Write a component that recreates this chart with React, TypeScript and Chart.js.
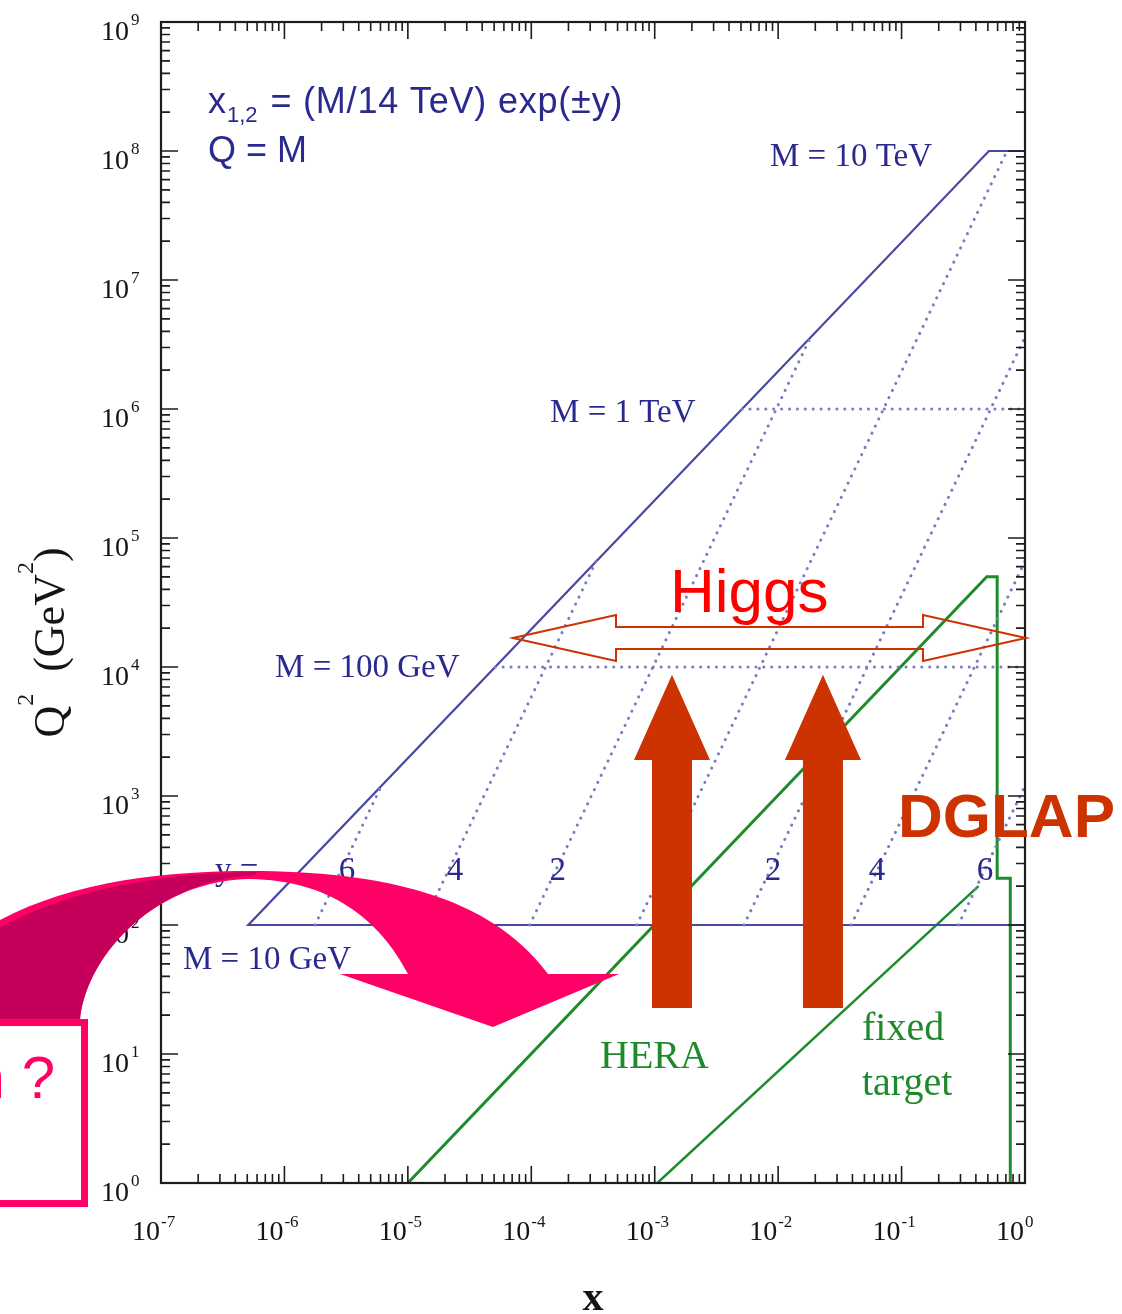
import React, { useEffect, useRef } from 'react';
import { Chart, registerables } from 'chart.js';

Chart.register(...registerables);

// ---------------- data (x = momentum fraction, Q2 in GeV^2) ----------------
// LHC kinematic limit (solid) : M = 10 GeV floor, diagonal, M = 10 TeV cap
const limitX = [1, 5.1e-7, 0.51, 1];
const limitQ2 = [100, 100, 1e8, 1e8];

// constant-mass dotted lines
const mass100GeVX = [5.1e-5, 1];
const mass100GeVQ2 = [1e4, 1e4];
const mass1TeVX = [5.1e-3, 1];
const mass1TeVQ2 = [1e6, 1e6];

// constant-rapidity dotted lines (y = 6, 4, 2, 0, -2, -4, -6)
const rapidityValues = [6, 4, 2, 0, -2, -4, -6];
const rapidityStartX = [1.77e-6, 1.31e-5, 9.7e-5, 7.14e-4, 5.28e-3, 0.039, 0.288];
const rapidityStartQ2 = [100, 100, 100, 100, 100, 100, 100];
const rapidityEndX = [6.1e-6, 3.35e-4, 0.0183, 0.714, 1, 1, 1];
const rapidityEndQ2 = [1200, 6.6e4, 3.6e6, 1e8, 3.6e6, 6.6e4, 1200];

// HERA region boundary
const heraX = [1e-5, 0.49, 0.595, 0.595, 0.76, 0.76];
const heraQ2 = [1, 5e4, 5e4, 230, 230, 1];

// fixed target boundary
const fixedTargetX = [1.05e-3, 0.42];
const fixedTargetQ2 = [1, 200];

// axes
const xTickExponents = [-7, -6, -5, -4, -3, -2, -1, 0];
const yTickExponents = [0, 1, 2, 3, 4, 5, 6, 7, 8, 9];

// rapidity labels along the M = 10 GeV line
const rapidityLabels = ['6', '4', '2', '2', '4', '6'];
const rapidityLabelX = [3.21e-6, 2.41e-5, 1.64e-4, 9.08e-3, 0.0632, 0.474];
const rapidityLabelQ2 = 224;

// ---------------- styling ----------------
const SERIF = "'Liberation Serif','DejaVu Serif','Times New Roman',serif";
const SANS = "'Liberation Sans',Arial,Helvetica,sans-serif";
const NAVY = '#2a2a8e';
const BLUE_LINE = '#4848a2';
const BLUE_DOT = '#7c7cc2';
const GREEN = '#1f8c2b';
const GREEN_TXT = '#1f8a2c';
const ORANGE = '#cc3300';
const PINK = '#ff0066';
const PINK_DARK = '#c6005a';

const pts = (xs: number[], ys: number[]) => xs.map((x, i) => ({ x, y: ys[i] }));

const decorPlugin = {
  id: 'decor',
  afterDraw(chart: any) {
    const { ctx, chartArea: a } = chart;
    const xs = chart.scales.x;
    const ys = chart.scales.y;
    const X = (lx: number) => xs.getPixelForValue(Math.pow(10, lx));
    const Y = (ly: number) => ys.getPixelForValue(Math.pow(10, ly));
    ctx.save();

    // ---- frame and inward ticks ----
    ctx.strokeStyle = '#1c1c1c';
    ctx.lineWidth = 1.6;
    ctx.beginPath();
    xTickExponents.forEach((e) => {
      for (let m = 1; m <= 9; m++) {
        const v = m * Math.pow(10, e);
        if (v > xs.max * 1.0001) break;
        const px = xs.getPixelForValue(v);
        const len = m === 1 ? 17 : 9;
        ctx.moveTo(px, a.bottom);
        ctx.lineTo(px, a.bottom - len);
        ctx.moveTo(px, a.top);
        ctx.lineTo(px, a.top + len);
      }
    });
    yTickExponents.forEach((e) => {
      for (let m = 1; m <= 9; m++) {
        const v = m * Math.pow(10, e);
        if (v > ys.max * 1.0001) break;
        const py = ys.getPixelForValue(v);
        const len = m === 1 ? 17 : 9;
        ctx.moveTo(a.left, py);
        ctx.lineTo(a.left + len, py);
        ctx.moveTo(a.right, py);
        ctx.lineTo(a.right - len, py);
      }
    });
    ctx.stroke();
    ctx.lineWidth = 2.2;
    ctx.strokeRect(a.left, a.top, a.right - a.left, a.bottom - a.top);

    // ---- tick labels ----
    ctx.fillStyle = '#141414';
    ctx.textBaseline = 'alphabetic';
    xTickExponents.forEach((e) => {
      const px = xs.getPixelForValue(Math.pow(10, e));
      ctx.font = `28px ${SERIF}`;
      ctx.textAlign = 'right';
      ctx.fillText('10', px - 1, a.bottom + 57);
      ctx.font = `17px ${SERIF}`;
      ctx.textAlign = 'left';
      ctx.fillText(String(e), px, a.bottom + 44);
    });
    yTickExponents.forEach((e) => {
      const py = ys.getPixelForValue(Math.pow(10, e));
      ctx.font = `28px ${SERIF}`;
      ctx.textAlign = 'right';
      ctx.fillText('10', a.left - 32, py + 18);
      ctx.font = `17px ${SERIF}`;
      ctx.textAlign = 'left';
      ctx.fillText(String(e), a.left - 30, py + 3);
    });

    // ---- axis titles ----
    ctx.font = `bold 42px ${SERIF}`;
    ctx.textAlign = 'center';
    ctx.fillText('x', (a.left + a.right) / 2, a.bottom + 127);

    ctx.save();
    ctx.translate(64, (Y(4) + Y(5)) / 2 + 40);
    ctx.rotate(-Math.PI / 2);
    ctx.textAlign = 'left';
    const parts: [string, number, number][] = [
      ['Q', 44, 0],
      ['2', 24, -31],
      ['  (GeV', 44, 0],
      ['2', 24, -31],
      [')', 44, 0],
    ];
    let total = 0;
    parts.forEach(([t, s]) => {
      ctx.font = `${s}px ${SERIF}`;
      total += ctx.measureText(t).width;
    });
    let cx = -total / 2;
    parts.forEach(([t, s, dy]) => {
      ctx.font = `${s}px ${SERIF}`;
      ctx.fillText(t, cx, dy);
      cx += ctx.measureText(t).width;
    });
    ctx.restore();

    // ---- blue in-plot labels ----
    ctx.fillStyle = NAVY;
    ctx.textAlign = 'left';
    const fx = X(-6.619);
    const fy = Y(8.295);
    ctx.font = `36px ${SANS}`;
    ctx.fillText('x', fx, fy);
    let w = ctx.measureText('x').width;
    ctx.font = `22px ${SANS}`;
    ctx.fillText('1,2', fx + w + 1, fy + 9);
    w += ctx.measureText('1,2').width + 3;
    ctx.font = `36px ${SANS}`;
    (ctx as any).letterSpacing = '0.8px';
    ctx.fillText(' = (M/14 TeV) exp(\u00B1y)', fx + w, fy);
    (ctx as any).letterSpacing = '0px';
    ctx.fillText('Q = M', fx, Y(7.915));

    ctx.font = `33px ${SERIF}`;
    ctx.fillText('M = 10 TeV', X(-2.066), Y(7.884));
    ctx.fillText('M = 1 TeV', X(-3.848), Y(5.899));
    ctx.fillText('M = 100 GeV', X(-6.076), Y(3.922));
    ctx.fillText('M = 10 GeV', X(-6.822), Y(1.659));
    ctx.fillText('y =', X(-6.562), ys.getPixelForValue(rapidityLabelQ2));
    ctx.textAlign = 'center';
    rapidityLabels.forEach((t, i) => {
      ctx.fillText(t, xs.getPixelForValue(rapidityLabelX[i]), ys.getPixelForValue(rapidityLabelQ2));
    });

    // ---- green labels ----
    ctx.fillStyle = GREEN_TXT;
    ctx.textAlign = 'left';
    ctx.font = `40px ${SERIF}`;
    ctx.fillText('HERA', X(-3.443), Y(0.891));
    ctx.fillText('fixed', X(-1.321), Y(1.109));
    ctx.fillText('target', X(-1.321), Y(0.682));

    // ---- Higgs annotation ----
    ctx.fillStyle = '#ff0000';
    ctx.font = `62px ${SANS}`;
    ctx.fillText('Higgs', X(-2.876), Y(4.426));

    const hl = X(-4.148);
    const hr = X(0.008);
    const hc = Y(4.225);
    const head = 103;
    const hh = 23;
    const sh = 11;
    ctx.strokeStyle = ORANGE;
    ctx.lineWidth = 2;
    ctx.lineJoin = 'miter';
    ctx.beginPath();
    ctx.moveTo(hl, hc);
    ctx.lineTo(hl + head, hc - hh);
    ctx.lineTo(hl + head, hc - sh);
    ctx.lineTo(hr - head, hc - sh);
    ctx.lineTo(hr - head, hc - hh);
    ctx.lineTo(hr, hc);
    ctx.lineTo(hr - head, hc + hh);
    ctx.lineTo(hr - head, hc + sh);
    ctx.lineTo(hl + head, hc + sh);
    ctx.lineTo(hl + head, hc + hh);
    ctx.closePath();
    ctx.stroke();

    // ---- DGLAP up arrows ----
    ctx.fillStyle = ORANGE;
    [-2.86, -1.637].forEach((lx) => {
      const cxp = X(lx);
      const yb = Y(1.357);
      const yh = Y(3.28);
      const ya = Y(3.94);
      ctx.beginPath();
      ctx.moveTo(cxp - 20, yb);
      ctx.lineTo(cxp - 20, yh);
      ctx.lineTo(cxp - 38, yh);
      ctx.lineTo(cxp, ya);
      ctx.lineTo(cxp + 38, yh);
      ctx.lineTo(cxp + 20, yh);
      ctx.lineTo(cxp + 20, yb);
      ctx.closePath();
      ctx.fill();
    });
    ctx.font = `bold 62px ${SANS}`;
    ctx.textAlign = 'left';
    ctx.fillText('DGLAP', X(-1.029), Y(2.682));

    // ---- pink curved arrow ----
    const ax = X(-4.31);
    const ay = Y(1.209);
    const P = (dx: number, dy: number): [number, number] => [ax + dx, ay + dy];
    const mv = (p: [number, number]) => ctx.moveTo(p[0], p[1]);
    const ln = (p: [number, number]) => ctx.lineTo(p[0], p[1]);
    const cb = (p1: [number, number], p2: [number, number], p3: [number, number]) =>
      ctx.bezierCurveTo(p1[0], p1[1], p2[0], p2[1], p3[0], p3[1]);

    ctx.fillStyle = PINK;
    ctx.beginPath();
    mv(P(-533, -82));
    cb(P(-453, -142), P(-343, -156), P(-243, -156));
    cb(P(-113, -156), P(-3, -132), P(55, -53));
    ln(P(126, -53));
    ln(P(0, 0));
    ln(P(-153, -53));
    ln(P(-85, -53));
    cb(P(-113, -107), P(-163, -147), P(-243, -148));
    cb(P(-333, -147), P(-405, -77), P(-413, -8));
    ln(P(-533, -8));
    ctx.closePath();
    ctx.fill();

    ctx.fillStyle = PINK_DARK;
    ctx.beginPath();
    mv(P(-533, -74));
    cb(P(-453, -134), P(-343, -154), P(-236, -155));
    ln(P(-238, -152));
    cb(P(-333, -147), P(-405, -77), P(-413, -8));
    ln(P(-533, -8));
    ctx.closePath();
    ctx.fill();

    // ---- pink box ----
    const b = P(-505, -8);
    const bw = 100;
    const bh = 188;
    ctx.fillStyle = '#ffffff';
    ctx.fillRect(b[0], b[1], bw, bh);
    ctx.strokeStyle = PINK;
    ctx.lineWidth = 7;
    ctx.strokeRect(b[0] + 3.5, b[1] + 3.5, bw - 7, bh - 7);
    ctx.fillStyle = PINK;
    ctx.font = `60px ${SANS}`;
    ctx.textAlign = 'right';
    ctx.fillText('n ?', b[0] + 67, b[1] + 79);

    ctx.restore();
  },
};

export default function App() {
  const canvasRef = useRef<HTMLCanvasElement | null>(null);

  useEffect(() => {
    const canvas = canvasRef.current;
    if (!canvas) return;
    const common = { showLine: true, pointRadius: 0, fill: false, tension: 0 };
    const dotted = {
      ...common,
      borderColor: BLUE_DOT,
      borderWidth: 3,
      borderDash: [0.1, 7.8],
      borderCapStyle: 'round' as const,
    };
    const chart = new Chart(canvas, {
      type: 'scatter',
      data: {
        datasets: [
          { label: 'M = 100 GeV', data: pts(mass100GeVX, mass100GeVQ2), ...dotted },
          { label: 'M = 1 TeV', data: pts(mass1TeVX, mass1TeVQ2), ...dotted },
          ...rapidityValues.map((r, i) => ({
            label: `y = ${r}`,
            data: [
              { x: rapidityStartX[i], y: rapidityStartQ2[i] },
              { x: rapidityEndX[i], y: rapidityEndQ2[i] },
            ],
            ...dotted,
          })),
          {
            label: 'LHC limit',
            data: pts(limitX, limitQ2),
            ...common,
            borderColor: BLUE_LINE,
            borderWidth: 2.2,
          },
          {
            label: 'HERA',
            data: pts(heraX, heraQ2),
            ...common,
            borderColor: GREEN,
            borderWidth: 3,
          },
          {
            label: 'fixed target',
            data: pts(fixedTargetX, fixedTargetQ2),
            ...common,
            borderColor: GREEN,
            borderWidth: 2.5,
          },
        ],
      },
      options: {
        animation: false,
        responsive: false,
        devicePixelRatio: 1,
        layout: { padding: { left: 161, right: 97, top: 22, bottom: 131 } },
        plugins: { legend: { display: false }, tooltip: { enabled: false } },
        events: [],
        scales: {
          x: { type: 'logarithmic', min: 1e-7, max: 1, display: false },
          y: { type: 'logarithmic', min: 1, max: 1e9, display: false },
        },
      },
      plugins: [decorPlugin],
    } as any);
    return () => chart.destroy();
  }, []);

  return (
    <div style={{ position: 'absolute', left: 0, top: 0, width: 1122, height: 1314, background: '#fff' }}>
      <canvas ref={canvasRef} width={1122} height={1314} style={{ display: 'block' }} />
    </div>
  );
}
